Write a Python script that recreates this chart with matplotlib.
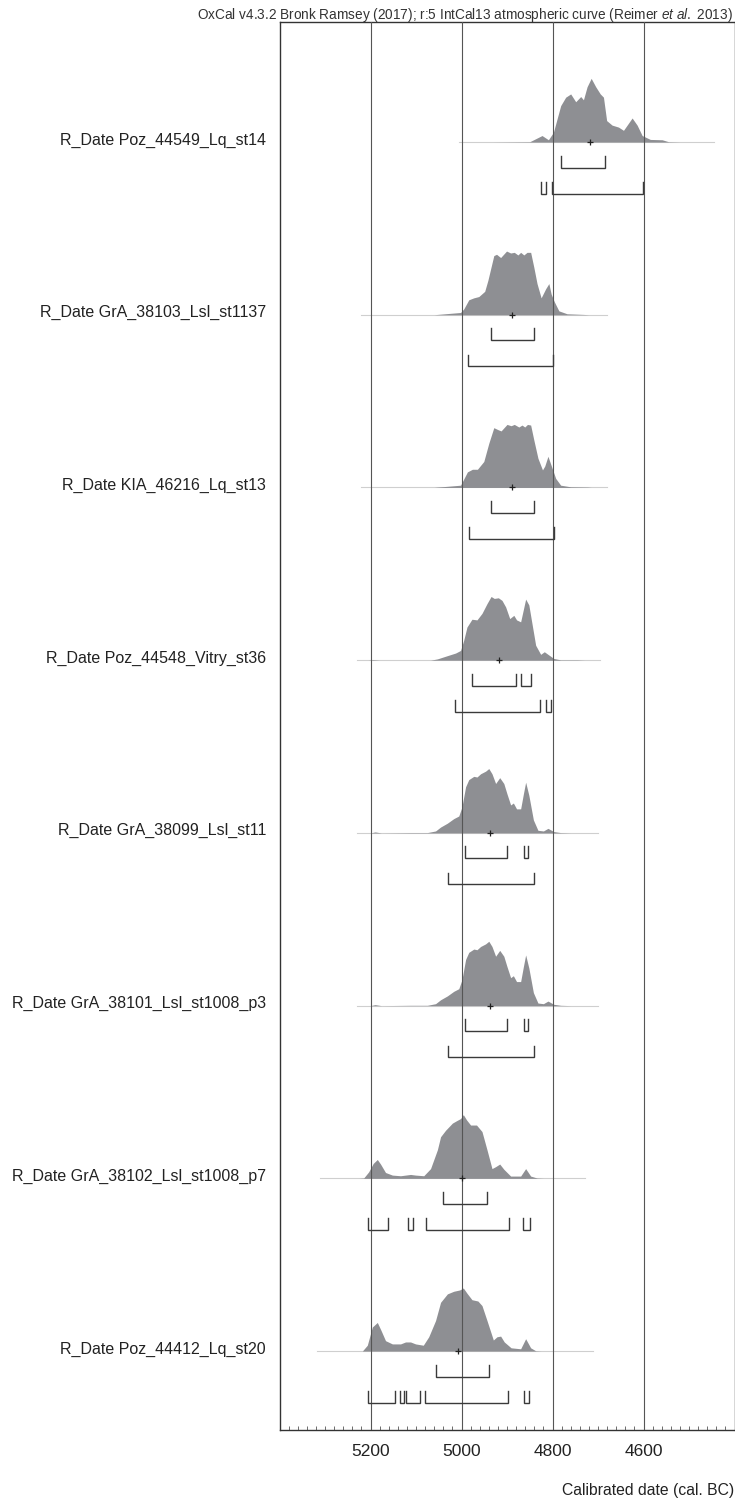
import matplotlib.pyplot as plt
from matplotlib.transforms import blended_transform_factory
from matplotlib.ticker import MultipleLocator

plt.rcParams['font.family'] = ['Liberation Sans', 'DejaVu Sans']
plt.rcParams['mathtext.fontset'] = 'custom'
plt.rcParams['mathtext.rm'] = 'Liberation Sans'
plt.rcParams['mathtext.it'] = 'Liberation Sans:italic'

# 样本名称（自上而下）
labels = [
    'R_Date Poz_44549_Lq_st14',
    'R_Date GrA_38103_Lsl_st1137',
    'R_Date KIA_46216_Lq_st13',
    'R_Date Poz_44548_Vitry_st36',
    'R_Date GrA_38099_Lsl_st11',
    'R_Date GrA_38101_Lsl_st1008_p3',
    'R_Date GrA_38102_Lsl_st1008_p7',
    'R_Date Poz_44412_Lq_st20',
]

# 后验概率分布：年代 (cal. BC) 与相对概率
dates_1 = [4930, 4850, 4823, 4809, 4798, 4782, 4771, 4760, 4749, 4738, 4732, 4724, 4715, 4705,
           4695, 4688, 4681, 4669, 4655, 4644, 4625, 4614, 4603, 4585, 4559, 4545, 4520]
prob_1 = [0, 0.005, 0.10, 0.035, 0.15, 0.56, 0.69, 0.74, 0.62, 0.70, 0.65, 0.85, 0.98, 0.85,
          0.74, 0.69, 0.33, 0.26, 0.23, 0.18, 0.37, 0.26, 0.10, 0.04, 0.035, 0.005, 0]

dates_2 = [5060, 5053, 5002, 4995, 4984, 4973, 4962, 4949, 4942, 4929, 4923, 4914, 4901, 4892, 4884,
           4876, 4870, 4863, 4856, 4848, 4841, 4834, 4825, 4815, 4808, 4803, 4796, 4786, 4768,
           4731, 4720]
prob_2 = [0, 0.005, 0.035, 0.09, 0.23, 0.26, 0.28, 0.36, 0.53, 0.91, 0.93, 0.88, 0.98, 0.95, 0.96,
          0.92, 0.96, 0.92, 0.96, 0.96, 0.73, 0.48, 0.26, 0.40, 0.48, 0.32, 0.20, 0.06, 0.015,
          0.005, 0]

dates_3 = [5060, 5053, 5002, 4987, 4976, 4965, 4951, 4940, 4929, 4920, 4913, 4900, 4891, 4884, 4874,
           4867, 4861, 4855, 4848, 4841, 4832, 4822, 4817, 4810, 4803, 4793, 4782, 4760, 4723,
           4715]
prob_3 = [0, 0.005, 0.035, 0.24, 0.28, 0.28, 0.40, 0.68, 0.92, 0.89, 0.87, 0.97, 0.95, 0.97, 0.93,
          0.96, 0.93, 0.97, 0.96, 0.73, 0.45, 0.27, 0.33, 0.48, 0.34, 0.14, 0.035, 0.01, 0.005,
          0]

dates_4 = [5205, 5195, 5180, 5068, 5053, 5031, 5013, 5002, 4995, 4988, 4977, 4966, 4955, 4944, 4935,
           4928, 4919, 4911, 4903, 4894, 4885, 4879, 4870, 4859, 4852, 4845, 4837, 4826, 4818,
           4808, 4797, 4782, 4746, 4730]
prob_4 = [0, 0.008, 0, 0, 0.02, 0.07, 0.11, 0.15, 0.31, 0.51, 0.63, 0.62, 0.72, 0.87, 0.98,
          0.95, 0.96, 0.92, 0.82, 0.64, 0.69, 0.62, 0.59, 0.94, 0.85, 0.56, 0.23, 0.09, 0.13,
          0.08, 0.026, 0.005, 0.005, 0]

dates_5 = [5200, 5190, 5176, 5112, 5075, 5057, 5046, 5031, 5017, 5006, 4999, 4991, 4984, 4973, 4966,
           4958, 4947, 4940, 4933, 4925, 4916, 4907, 4900, 4892, 4886, 4879, 4870, 4864, 4859,
           4852, 4842, 4832, 4820, 4810, 4797, 4782, 4760]
prob_5 = [0, 0.015, 0, 0.005, 0.005, 0.03, 0.09, 0.15, 0.22, 0.26, 0.40, 0.71, 0.82, 0.87, 0.86,
          0.91, 0.95, 0.99, 0.91, 0.76, 0.85, 0.76, 0.60, 0.43, 0.46, 0.37, 0.37, 0.60, 0.78,
          0.58, 0.20, 0.04, 0.03, 0.07, 0.02, 0.005, 0]

dates_6 = dates_5
prob_6 = prob_5

dates_7 = [5225, 5215, 5204, 5194, 5185, 5178, 5167, 5152, 5134, 5112, 5101, 5083, 5068, 5053, 5046,
           5035, 5020, 5010, 5002, 4996, 4989, 4980, 4967, 4955, 4944, 4933, 4925, 4916, 4907,
           4892, 4870, 4859, 4848, 4834, 4820]
prob_7 = [0, 0.005, 0.10, 0.23, 0.29, 0.22, 0.09, 0.05, 0.04, 0.06, 0.05, 0.04, 0.15, 0.44, 0.64,
          0.74, 0.85, 0.89, 0.92, 0.98, 0.90, 0.82, 0.82, 0.72, 0.44, 0.15, 0.18, 0.22, 0.14,
          0.035, 0.035, 0.15, 0.035, 0.005, 0]

dates_8 = [5218, 5207, 5196, 5185, 5177, 5167, 5152, 5134, 5123, 5112, 5101, 5084, 5072, 5057, 5046,
           5031, 5017, 5004, 4996, 4988, 4977, 4964, 4955, 4944, 4930, 4922, 4914, 4906, 4891,
           4870, 4859, 4848, 4837, 4825]
prob_8 = [0, 0.09, 0.37, 0.44, 0.32, 0.16, 0.11, 0.11, 0.14, 0.14, 0.11, 0.09, 0.22, 0.47, 0.75,
          0.88, 0.92, 0.94, 0.97, 0.89, 0.79, 0.77, 0.70, 0.47, 0.17, 0.22, 0.23, 0.14, 0.05,
          0.035, 0.19, 0.05, 0.005, 0]

dates_all = [dates_1, dates_2, dates_3, dates_4, dates_5, dates_6, dates_7, dates_8]
prob_all = [prob_1, prob_2, prob_3, prob_4, prob_5, prob_6, prob_7, prob_8]

# 基线范围 (cal. BC)
spans = [(5005, 4445), (5220, 4680), (5220, 4680), (5230, 4695),
         (5230, 4700), (5230, 4700), (5310, 4728), (5317, 4710)]

# 均值
means = [4718, 4889, 4889, 4918, 4938, 4938, 4998, 5007]

# 68.2% 与 95.4% 置信区间
ranges_68 = [
    [(4782, 4685)],
    [(4936, 4840)],
    [(4936, 4841)],
    [(4977, 4881), (4869, 4847)],
    [(4993, 4901), (4863, 4854)],
    [(4993, 4901), (4863, 4854)],
    [(5041, 4945)],
    [(5055, 4940)],
]
ranges_95 = [
    [(4826, 4814), (4801, 4601)],
    [(4985, 4798)],
    [(4984, 4797)],
    [(5015, 4828), (4814, 4803)],
    [(5030, 4840)],
    [(5030, 4840)],
    [(5205, 5162), (5117, 5107), (5078, 4896), (4864, 4850)],
    [(5206, 5147), (5136, 5127), (5121, 5092), (5081, 4898), (4863, 4851)],
]

major_ticks = [5200, 5000, 4800, 4600]

fig = plt.figure(figsize=(7.35, 14.98), dpi=100)
ax = fig.add_axes([279.5 / 735, 68 / 1498, 455 / 735, 1408 / 1498])

px_row = 172.7          # 每行像素高度
peak = 65 / px_row      # 概率 1.0 对应的高度
fill_c = '#8e8f93'
line_c = '#3a3a3a'

for i in range(len(labels)):
    base = -i
    d = dates_all[i]
    p = [base + v * peak for v in prob_all[i]]
    ax.plot(spans[i], [base, base], color='#cfcfcf', lw=0.8, zorder=1)
    ax.fill_between(d, base, p, color=fill_c, lw=0, zorder=2)
    ax.plot(means[i], base, marker='+', ms=5, mew=0.9, color='#222222', zorder=4)

    for rng, (top, bot) in ((ranges_68[i], (13.5, 25.5)), (ranges_95[i], (40, 51.5))):
        y0 = base - top / px_row
        y1 = base - bot / px_row
        for a, b in rng:
            ax.plot([a, a, b, b], [y0, y1, y1, y0], color=line_c, lw=1.0,
                    solid_joinstyle='miter', zorder=4)

    trans = blended_transform_factory(ax.transAxes, ax.transData)
    ax.text(-0.0297, base + 2 / px_row, labels[i], transform=trans, ha='right', va='center',
            fontsize=11.5, color='#222222')

for t in major_ticks:
    ax.axvline(t, color='#555555', lw=0.8, zorder=3)

ax.set_xlim(5400, 4400)
ax.set_ylim(-7.457, 0.695)
ax.set_yticks([])
ax.set_xticks(major_ticks)
ax.xaxis.set_minor_locator(MultipleLocator(20))
ax.tick_params(axis='x', which='major', direction='in', length=0, pad=10,
               labelsize=12.5, labelcolor='#222222')
ax.tick_params(axis='x', which='minor', direction='in', length=3, width=0.6,
               color='#555555', top=False)
for s in ax.spines.values():
    s.set_linewidth(1.0)
    s.set_color('#333333')

fig.text(733 / 735, 1 - 15 / 1498,
         r'OxCal v4.3.2 Bronk Ramsey (2017); r:5 IntCal13 atmospheric curve (Reimer $\mathit{et\ al.}$ 2013)',
         ha='right', va='center', fontsize=9.8, color='#333333')
fig.text(734 / 735, 1 - 1491 / 1498, 'Calibrated date (cal. BC)',
         ha='right', va='center', fontsize=11.3, color='#222222')

fig.savefig('out.png', dpi=100)
